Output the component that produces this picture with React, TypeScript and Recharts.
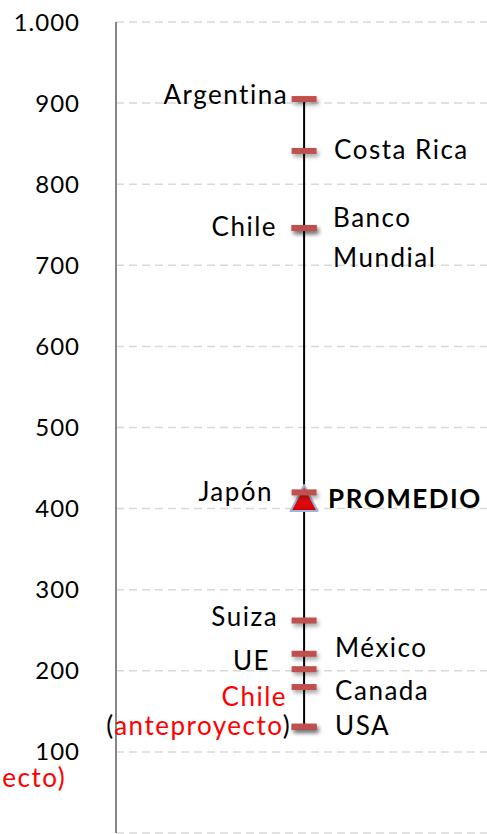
import React from 'react';
import { ScatterChart, Scatter, XAxis, YAxis, CartesianGrid } from 'recharts';

// ---- data ----
const countries = ['Argentina', 'Costa Rica', 'Chile', 'Banco Mundial', 'Japón', 'Suiza', 'México', 'UE', 'Canada', 'Chile (anteproyecto)', 'USA'];
const limits = [905, 841, 746, 746, 420, 262, 221, 202, 180, 131, 131];
const averageLabel = 'PROMEDIO';
const averageValue = 413;
const yTicks = [0, 100, 200, 300, 400, 500, 600, 700, 800, 900, 1000];

// ---- layout / style ----
const SERIES_X = 50.7;
const FONT = 'Lato, "Open Sans", sans-serif';
const FS = 26;
const LS = 1.5;
const RED = '#FF0000';
const DASH = '#C0504D';

type Seg = { t: string; c?: string };
type Line = { dx: number; dy: number; anchor: 'start' | 'end'; segs: Seg[]; bold?: boolean };

const LABEL_LAYOUT: Record<string, Line[]> = {
  'Argentina': [{ dx: -16, dy: 5, anchor: 'end', segs: [{ t: 'Argentina' }] }],
  'Costa Rica': [{ dx: 30, dy: 8, anchor: 'start', segs: [{ t: 'Costa Rica' }] }],
  'Chile': [{ dx: -27, dy: 8, anchor: 'end', segs: [{ t: 'Chile' }] }],
  'Banco Mundial': [
    { dx: 29, dy: -1, anchor: 'start', segs: [{ t: 'Banco' }] },
    { dx: 29, dy: 39, anchor: 'start', segs: [{ t: 'Mundial' }] },
  ],
  'Japón': [{ dx: -31, dy: 9, anchor: 'end', segs: [{ t: 'Japón' }] }],
  'Suiza': [{ dx: -26, dy: 5, anchor: 'end', segs: [{ t: 'Suiza' }] }],
  'México': [{ dx: 31, dy: 3, anchor: 'start', segs: [{ t: 'México' }] }],
  'UE': [{ dx: -34, dy: 1, anchor: 'end', segs: [{ t: 'UE' }] }],
  'Canada': [{ dx: 31, dy: 13, anchor: 'start', segs: [{ t: 'Canada' }] }],
  'Chile (anteproyecto)': [
    { dx: -17, dy: -21, anchor: 'end', segs: [{ t: 'Chile', c: RED }] },
    { dx: -13, dy: 8, anchor: 'end', segs: [{ t: '(' }, { t: 'anteproyecto', c: RED }, { t: ')' }] },
    { dx: -238, dy: 60, anchor: 'end', segs: [{ t: 'ecto)', c: RED }] },
  ],
  'USA': [{ dx: 31, dy: 8, anchor: 'start', segs: [{ t: 'USA' }] }],
  'PROMEDIO': [{ dx: 24, dy: 10, anchor: 'start', segs: [{ t: 'PROMEDIO' }], bold: true }],
};

const pointData = countries.map((name, i) => ({ x: SERIES_X, y: limits[i], name }));
const rangeData = [
  { x: SERIES_X, y: Math.max(...limits) },
  { x: SERIES_X, y: Math.min(...limits) },
];
const averageData = [{ x: SERIES_X, y: averageValue, name: averageLabel }];

const formatTick = (v: number) => String(v).replace(/\B(?=(\d{3})+(?!\d))/g, '.');

function renderLabel(name: string, cx: number, cy: number) {
  const lines = LABEL_LAYOUT[name] || [];
  return lines.map((l, i) => (
    <text
      key={i}
      x={cx + l.dx}
      y={cy + l.dy}
      textAnchor={l.anchor}
      fontFamily={FONT}
      fontSize={FS}
      letterSpacing={LS}
      fontWeight={l.bold ? 700 : 400}
      fill="#000"
    >
      {l.segs.map((s, j) => (
        <tspan key={j} fill={s.c || '#000'}>{s.t}</tspan>
      ))}
    </text>
  ));
}

const DashShape = (props: any) => {
  const { cx, cy, payload } = props;
  if (cx == null || cy == null) return <g />;
  const w = 25;
  const h = 6;
  return (
    <g>
      <rect x={cx - w / 2 + 2} y={cy - h / 2 + 3} width={w} height={h} fill="#000" opacity={0.35} style={{ filter: 'blur(2px)' }} />
      <rect x={cx - w / 2} y={cy - h / 2} width={w} height={h} fill={DASH} />
      {renderLabel(payload.name, cx, cy)}
    </g>
  );
};

const TriangleShape = (props: any) => {
  const { cx, cy, payload } = props;
  if (cx == null || cy == null) return <g />;
  const hw = 13.5;
  const hh = 13;
  return (
    <g>
      <defs>
        <linearGradient id="triGrad" x1="0" y1="0" x2="0" y2="1">
          <stop offset="0%" stopColor="#FF2020" />
          <stop offset="100%" stopColor="#D00000" />
        </linearGradient>
      </defs>
      <polygon
        points={`${cx},${cy - hh} ${cx - hw},${cy + hh} ${cx + hw},${cy + hh}`}
        fill="url(#triGrad)"
        stroke="#9FB4DA"
        strokeWidth={2}
        strokeLinejoin="round"
      />
      {renderLabel(payload.name, cx, cy)}
    </g>
  );
};

const YTick = (props: any) => {
  const { x, y, payload } = props;
  if (payload.value === 0) return <g />;
  return (
    <text x={x} y={y} dy={8.5} textAnchor="end" fontFamily={FONT} fontSize={24} letterSpacing={1} fill="#000">
      {formatTick(payload.value)}
    </text>
  );
};

export default function App() {
  return (
    <div style={{ position: 'absolute', left: 0, top: 0, background: '#fff' }}>
      <ScatterChart width={487} height={834} margin={{ top: 22, right: 0, bottom: 1, left: 0 }}>
        <CartesianGrid vertical={false} stroke="#D9D9D9" strokeWidth={1.5} strokeDasharray="8 5" />
        <XAxis type="number" dataKey="x" domain={[0, 100]} hide />
        <YAxis
          type="number"
          dataKey="y"
          domain={[0, 1000]}
          ticks={yTicks}
          interval={0}
          width={116}
          tickSize={0}
          tickMargin={36}
          tickLine={false}
          axisLine={{ stroke: '#868686', strokeWidth: 2 }}
          tick={<YTick />}
        />
        <Scatter
          data={rangeData}
          line={{ stroke: '#000', strokeWidth: 2 }}
          shape={() => <g />}
          isAnimationActive={false}
        />
        <Scatter data={averageData} shape={<TriangleShape />} isAnimationActive={false} />
        <Scatter data={pointData} shape={<DashShape />} isAnimationActive={false} />
      </ScatterChart>
    </div>
  );
}
